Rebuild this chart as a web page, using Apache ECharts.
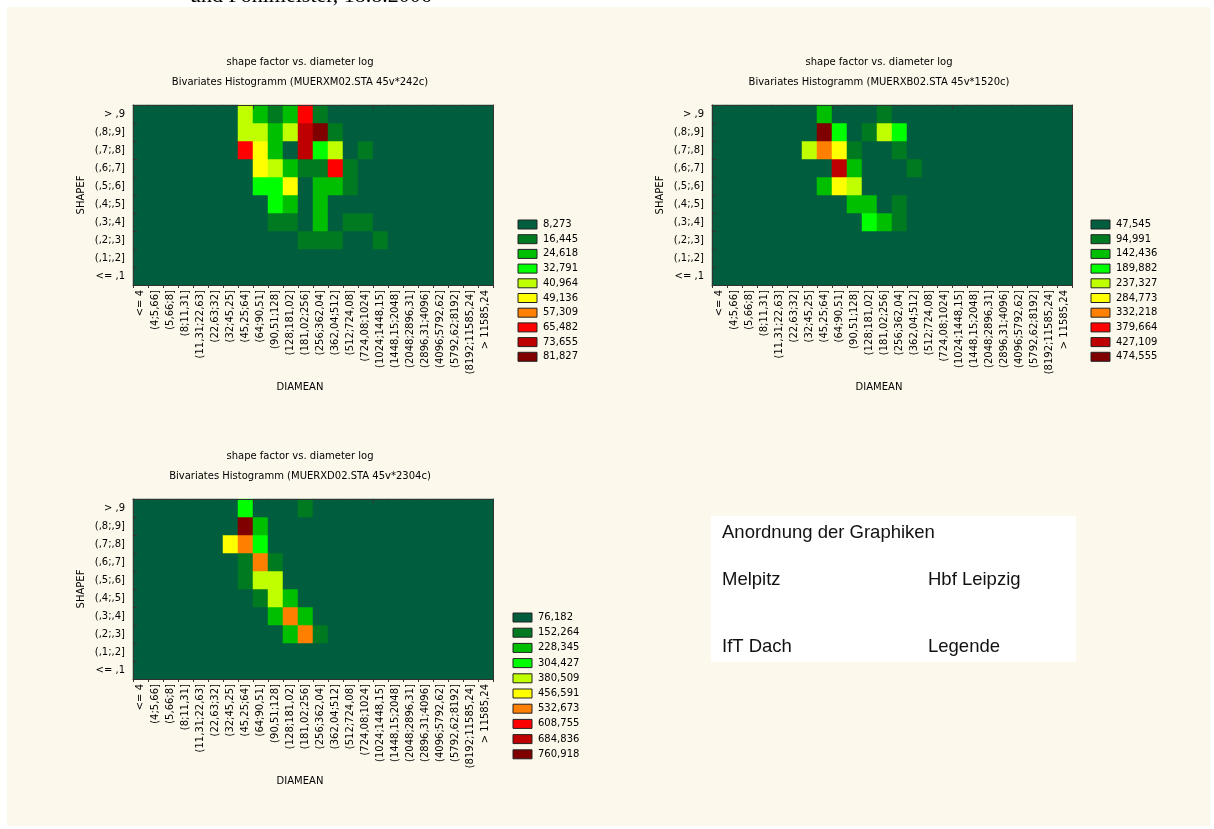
<!DOCTYPE html>
<html>
<head>
<meta charset="utf-8">
<script src="https://cdn.jsdelivr.net/npm/echarts@6/dist/echarts.min.js"></script>
<style>
  html, body { margin: 0; padding: 0; background: #ffffff; }
  #chart { width: 1214px; height: 829px; }
</style>
</head>
<body>
<div id="chart"></div>
<script>
// Class intervals of the particle diameter (log scale) and of the shape factor
const xLabels = ["<= 4", "(4;5,66]", "(5,66;8]", "(8;11,31]", "(11,31;22,63]", "(22,63;32]",
  "(32;45,25]", "(45,25;64]", "(64;90,51]", "(90,51;128]", "(128;181,02]", "(181,02;256]",
  "(256;362,04]", "(362,04;512]", "(512;724,08]", "(724,08;1024]", "(1024;1448,15]",
  "(1448,15;2048]", "(2048;2896,31]", "(2896,31;4096]", "(4096;5792,62]", "(5792,62;8192]",
  "(8192;11585,24]", "> 11585,24"];
const yLabels = ["<= ,1", "(,1;,2]", "(,2;,3]", "(,3;,4]", "(,4;,5]", "(,5;,6]",
  "(,6;,7]", "(,7;,8]", "(,8;,9]", "> ,9"];

// Level colours shared by all three histograms
const levelColors = ["#005E3E", "#007A20", "#00BF00", "#00FF00", "#BFFF00",
  "#FFFF00", "#FF8000", "#FF0000", "#BF0000", "#800000"];

// Upper bounds of the ten frequency classes of each station
const boundsMelpitz = [8.273, 16.445, 24.618, 32.791, 40.964, 49.136, 57.309, 65.482, 73.655, 81.827];
const boundsHbf = [47.545, 94.991, 142.436, 189.882, 237.327, 284.773, 332.218, 379.664, 427.109, 474.555];
const boundsIft = [76.182, 152.264, 228.345, 304.427, 380.509, 456.591, 532.673, 608.755, 684.836, 760.918];

// Occupied cells: [diameter class, shape class, frequency]; all other cells are 0
const cellsMelpitz = [
  [7,9,37],[8,9,20],[9,9,12],[10,9,20],[11,9,61],[12,9,12],
  [7,8,37],[8,8,37],[9,8,20],[10,8,37],[11,8,70],[12,8,78],[13,8,12],
  [7,7,61],[8,7,45],[9,7,20],[11,7,70],[12,7,29],[13,7,37],[15,7,12],
  [8,6,45],[9,6,37],[10,6,20],[11,6,12],[12,6,12],[13,6,61],[14,6,12],
  [8,5,29],[9,5,29],[10,5,45],[12,5,20],[13,5,20],[14,5,12],
  [9,4,29],[10,4,20],[12,4,20],
  [9,3,12],[10,3,12],[12,3,20],[14,3,12],[15,3,12],
  [11,2,12],[12,2,12],[13,2,12],[16,2,12]
];
const cellsHbf = [
  [7,9,119],[11,9,71],
  [7,8,451],[8,8,166],[10,8,71],[11,8,214],[12,8,166],
  [6,7,214],[7,7,308],[8,7,261],[9,7,71],[12,7,71],
  [8,6,403],[9,6,119],[13,6,71],
  [7,5,119],[8,5,261],[9,5,214],
  [9,4,119],[10,4,119],[12,4,71],
  [10,3,166],[11,3,119],[12,3,71]
];
const cellsIft = [
  [7,9,266],[11,9,114],
  [7,8,723],[8,8,190],
  [6,7,419],[7,7,495],[8,7,266],
  [7,6,114],[8,6,495],[9,6,114],
  [7,5,114],[8,5,342],[9,5,342],
  [8,4,114],[9,4,342],[10,4,190],
  [9,3,190],[10,3,495],[11,3,190],
  [10,2,190],[11,2,495],[12,2,114]
];

const titleLine1 = "shape factor vs. diameter log";
const titles = [
  "Bivariates Histogramm (MUERXM02.STA 45v*242c)",
  "Bivariates Histogramm (MUERXB02.STA 45v*1520c)",
  "Bivariates Histogramm (MUERXD02.STA 45v*2304c)"
];

const FONT = "DejaVu Sans";

// Full 24 x 10 matrix, empty cells set to 0
function fullMatrix(cells) {
  const map = {};
  cells.forEach(c => { map[c[0] + "_" + c[1]] = c[2]; });
  const out = [];
  for (let x = 0; x < xLabels.length; x++) {
    for (let y = 0; y < yLabels.length; y++) {
      out.push([x, y, map[x + "_" + y] || 0]);
    }
  }
  return out;
}

function pieces(bounds) {
  return bounds.map((b, k) => k === 0
    ? { lte: b, color: levelColors[k] }
    : { gt: bounds[k - 1], lte: b, color: levelColors[k] });
}

const panels = [
  { cells: cellsMelpitz, bounds: boundsMelpitz, grid: { left: 133, top: 105, width: 360, height: 180 },
    legend: { x: 518, y: 220, gap: 14.7 } },
  { cells: cellsHbf, bounds: boundsHbf, grid: { left: 712, top: 105, width: 360, height: 180 },
    legend: { x: 1091, y: 220, gap: 14.7 } },
  { cells: cellsIft, bounds: boundsIft, grid: { left: 133, top: 499, width: 360, height: 180 },
    legend: { x: 513, y: 613, gap: 15.2 } }
];

const axisColor = "#333";
const grid = [], xAxis = [], yAxis = [], series = [], visualMap = [];
const graphic = [
  // page background
  { type: "rect", shape: { x: 7, y: 7, width: 1203, height: 819 }, style: { fill: "#FDF8EC" }, z: -10 },
  { type: "text", x: 190, y: 7, style: { text: "und Fohlmeister, 18.8.2006", font: "22px 'Liberation Serif'",
    fill: "#000", textAlign: "left", verticalAlign: "bottom" }, z: -5 },
  // layout note box
  { type: "rect", shape: { x: 711, y: 516, width: 365, height: 146 }, style: { fill: "#ffffff" } },
  { type: "text", x: 722, y: 533, style: { text: "Anordnung der Graphiken", font: "18.5px 'Liberation Sans'", fill: "#111", verticalAlign: "middle" } },
  { type: "text", x: 722, y: 580, style: { text: "Melpitz", font: "18.5px 'Liberation Sans'", fill: "#111", verticalAlign: "middle" } },
  { type: "text", x: 928, y: 580, style: { text: "Hbf Leipzig", font: "18.5px 'Liberation Sans'", fill: "#111", verticalAlign: "middle" } },
  { type: "text", x: 722, y: 647, style: { text: "IfT Dach", font: "18.5px 'Liberation Sans'", fill: "#111", verticalAlign: "middle" } },
  { type: "text", x: 928, y: 647, style: { text: "Legende", font: "18.5px 'Liberation Sans'", fill: "#111", verticalAlign: "middle" } }
];

panels.forEach((p, i) => {
  const g = p.grid;
  grid.push(g);
  xAxis.push({
    type: "category", gridIndex: i, position: "bottom", data: xLabels, z: 10,
    axisLine: { lineStyle: { color: axisColor, width: 1 } },
    axisTick: { show: true, length: 3, lineStyle: { color: axisColor } },
    axisLabel: { rotate: 90, interval: 0, fontSize: 10, fontFamily: FONT, color: "#000", margin: 5 },
    splitLine: { show: false }
  });
  xAxis.push({
    type: "category", gridIndex: i, position: "top", data: xLabels, z: 10,
    axisLine: { lineStyle: { color: axisColor, width: 1 } },
    axisTick: { show: true, inside: true, length: 4, lineStyle: { color: axisColor } },
    axisLabel: { show: false }, splitLine: { show: false }
  });
  yAxis.push({
    type: "category", gridIndex: i, position: "left", data: yLabels, z: 10,
    axisLine: { lineStyle: { color: axisColor, width: 1 } },
    axisTick: { show: true, inside: true, length: 4, lineStyle: { color: axisColor } },
    axisLabel: { interval: 0, fontSize: 10, fontFamily: FONT, color: "#000", margin: 8 },
    splitLine: { show: false }
  });
  yAxis.push({
    type: "category", gridIndex: i, position: "right", data: yLabels, z: 10,
    axisLine: { lineStyle: { color: axisColor, width: 1 } },
    axisTick: { show: false }, axisLabel: { show: false }, splitLine: { show: false }
  });
  series.push({
    type: "heatmap", xAxisIndex: 2 * i, yAxisIndex: 2 * i,
    data: fullMatrix(p.cells), itemStyle: { borderWidth: 0 },
    emphasis: { disabled: true }
  });
  visualMap.push({ type: "piecewise", show: false, seriesIndex: i, dimension: 2, pieces: pieces(p.bounds) });

  // titles and axis names
  const cx = g.left + g.width / 2 - 13;
  graphic.push({ type: "text", x: cx, y: g.top - 43, style: { text: titleLine1, font: "10px '" + FONT + "'", fill: "#000", textAlign: "center", verticalAlign: "middle" } });
  graphic.push({ type: "text", x: cx, y: g.top - 23, style: { text: titles[i], font: "10px '" + FONT + "'", fill: "#000", textAlign: "center", verticalAlign: "middle" } });
  graphic.push({ type: "text", x: cx, y: g.top + 282, style: { text: "DIAMEAN", font: "10px '" + FONT + "'", fill: "#000", textAlign: "center", verticalAlign: "middle" } });
  graphic.push({ type: "text", x: g.left - 52, y: g.top + g.height / 2, rotation: Math.PI / 2,
    style: { text: "SHAPEF", font: "10px '" + FONT + "'", fill: "#000", textAlign: "center", verticalAlign: "middle" } });

  // colour key
  p.bounds.forEach((b, k) => {
    const yy = p.legend.y + k * p.legend.gap;
    graphic.push({ type: "rect", shape: { x: p.legend.x, y: yy, width: 19, height: 9 },
      style: { fill: levelColors[k], stroke: "#222", lineWidth: 1 } });
    graphic.push({ type: "text", x: p.legend.x + 25, y: yy + 4.5,
      style: { text: b.toFixed(3).replace(".", ","), font: "10px '" + FONT + "'", fill: "#000", verticalAlign: "middle" } });
  });
});

const chart = echarts.init(document.getElementById("chart"), null, { renderer: "canvas" });
chart.setOption({
  animation: false,
  backgroundColor: "#ffffff",
  grid, xAxis, yAxis, series, visualMap, graphic
});
</script>
</body>
</html>
